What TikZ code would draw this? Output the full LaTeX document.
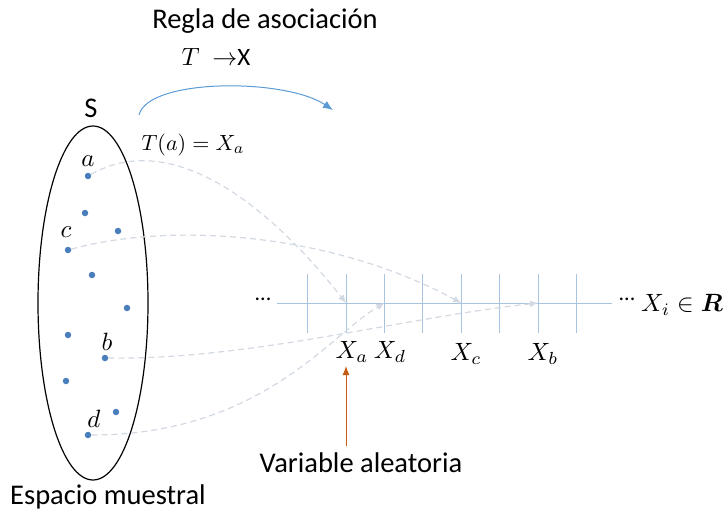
\documentclass[tikz,border=0pt]{standalone}
\usepackage{fontspec}
\usepackage{amsmath}
\usepackage{graphicx}
\setmainfont{Carlito}
\usetikzlibrary{arrows.meta,shapes.geometric}
\definecolor{dotblue}{HTML}{4A7EBB}
\definecolor{axisblue}{HTML}{A7C3DD}
\definecolor{arcblue}{HTML}{5B9BD5}
\definecolor{dashgray}{HTML}{D3D9E2}
\definecolor{orangeb}{HTML}{C55A11}
\newcommand{\mth}[1]{\scalebox{2.2}{$#1$}}
\newcommand{\mthb}[1]{\scalebox{2.5}{$#1$}}
\tikzset{
  pt/.style={circle,fill=dotblue,inner sep=0pt,minimum size=6.5pt},
  lbl/.style={font=\fontsize{28.5}{30}\selectfont,inner sep=0pt},
  mlbl/.style={font=\fontsize{10}{12}\selectfont,inner sep=0pt},
  mapline/.style={dashgray,dashed,dash pattern=on 6pt off 4pt,line width=1.2pt,-{Latex[length=8pt,width=7pt]}},
  tick/.style={axisblue,line width=1pt}
}
\begin{document}
\begin{tikzpicture}[x=1pt,y=-1pt]
\useasboundingbox (0,0) rectangle (728,514);
% titles
\node[lbl] (title) at (265,21) {Regla de asociación};
\node[mlbl] (rule) at (216,57) {\mthb{T\ \rightarrow}{\fontsize{25}{27}\selectfont X}};
\node[lbl] (S) at (91,108) {S};
\node[mlbl] (Ta) at (193,145) {\mth{T(a) = X_a}};
\node[lbl] (esp) at (108,497) {Espacio muestral};
% ellipse
\node[draw,line width=1.2pt,ellipse,minimum width=110pt,minimum height=354pt,inner sep=0pt] (space) at (93,303) {};
% points
\node[pt] (pa) at (88,176) {};
\node[pt] (p2) at (85,213) {};
\node[pt] (p3) at (118,231) {};
\node[pt] (pc) at (68,250) {};
\node[pt] (p5) at (92,275) {};
\node[pt] (p6) at (127,308) {};
\node[pt] (p7) at (68,335) {};
\node[pt] (pb) at (105,358) {};
\node[pt] (p9) at (66,381) {};
\node[pt] (p10) at (116,412) {};
\node[pt] (pd) at (88,435) {};
\node[mlbl] (la) at (88,161) {\mthb{a}};
\node[mlbl] (lc) at (66,232) {\mthb{c}};
\node[mlbl] (lb) at (107,342) {\mthb{b}};
\node[mlbl] (ld) at (94,419) {\mthb{d}};
% axis
\coordinate (axL) at (277,303);
\coordinate (axR) at (612,303);
\draw[tick] (axL) -- (axR);
\foreach \i/\x in {1/307.7,2/346,3/384.4,4/422.8,5/461.2,6/499.6,7/538,8/576.4}{
  \coordinate (t\i) at (\x,303);
  \draw[tick] (\x,274) -- (\x,333);
}
\node[lbl,font=\fontsize{22}{24}\selectfont] (dl) at (263,299) {...};
\node[lbl,font=\fontsize{22}{24}\selectfont] (dr) at (627,299) {...};
\node[mlbl,anchor=west] (xi) at (641,305) {\mthb{X_i \in \boldsymbol{R}}};
\node[mlbl] (Xa) at (352,352) {\mthb{X_a}};
\node[mlbl] (Xd) at (390,352) {\mthb{X_d}};
\node[mlbl] (Xc) at (466,354) {\mthb{X_c}};
\node[mlbl] (Xb) at (543,354) {\mthb{X_b}};
% mapping arrows
\draw[mapline] (pa) .. controls (170,130) and (265,200) .. (t2);
\draw[mapline] (pc) .. controls (170,222) and (330,232) .. (t5);
\draw[mapline] (pb) .. controls (250,360) and (400,318) .. (t7);
\draw[mapline] (pd) .. controls (260,435) and (330,335) .. (t3);
% top arc
\coordinate (arcS) at (139,115);
\coordinate (arcE) at (333,110);
\draw[arcblue,line width=1pt,-{Latex[length=10pt,width=8pt]}] (arcS) .. controls (148,78) and (285,78) .. (arcE);
% orange arrow
\node[lbl] (va) at (361,463) {Variable aleatoria};
\coordinate (oa) at (346,366);
\draw[orangeb,line width=1pt,-{Latex[length=9pt,width=7pt]}] (346,446) -- (oa);
\end{tikzpicture}
\end{document}
